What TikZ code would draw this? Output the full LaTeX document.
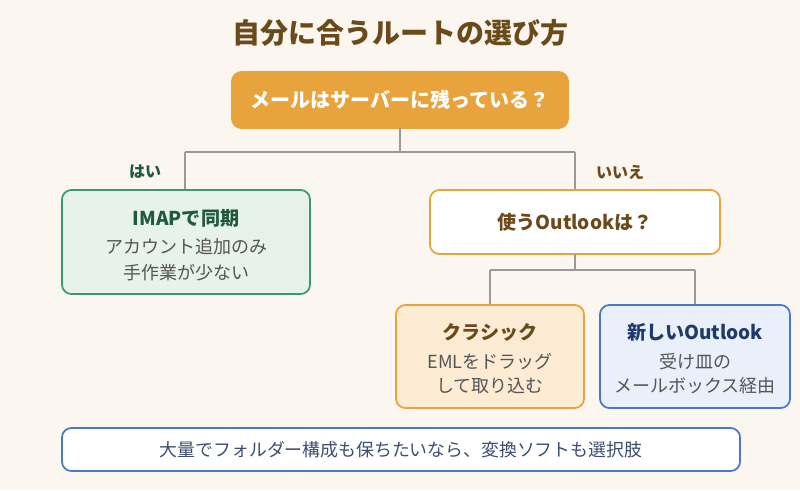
\documentclass[tikz,border=0pt]{standalone}
\usepackage{fontspec}
\setmainfont{Noto Sans CJK JP}
\usetikzlibrary{positioning}
\definecolor{bgc}{HTML}{FBF7F0}
\definecolor{brownc}{HTML}{6B4A1A}
\definecolor{orangec}{HTML}{E8A33D}
\definecolor{greenc}{HTML}{3A9A6A}
\definecolor{greenf}{HTML}{E6F2EA}
\definecolor{greent}{HTML}{1F5A3A}
\definecolor{bluec}{HTML}{4A78C8}
\definecolor{bluef}{HTML}{E9F0FA}
\definecolor{bluet}{HTML}{1F3A6A}
\definecolor{orangef}{HTML}{FDEBD3}
\definecolor{greyt}{HTML}{555555}
\definecolor{linec}{HTML}{999999}
\begin{document}
\begin{tikzpicture}[x=0.75pt,y=-0.75pt]
\tikzstyle{every node}+=[inner sep=0pt]
\tikzstyle{box}=[draw,rounded corners=7pt,line width=1.3pt]
\tikzstyle{link}=[draw=linec,line width=1.2pt]
\tikzstyle{body}=[text=greyt,font=\fontsize{13.5}{16}\selectfont]
\tikzstyle{head}=[font=\fontsize{14.3}{17}\selectfont\bfseries]
\fill [bgc] (0,0) rectangle (800,490);
\useasboundingbox (0,0) rectangle (800,490);
% title
\node (title) at (400,33) [text=brownc,font=\fontsize{21}{24}\selectfont\bfseries] {自分に合うルートの選び方};
% question
\draw [box,draw=orangec,fill=orangec] (232,72) rectangle (568,128);
\node (q) at (400,100) [text=white,font=\fontsize{15}{18}\selectfont\bfseries] {メールはサーバーに残っている？};
\coordinate (qb) at (400,128);
\coordinate (j1) at (400,152);
\coordinate (j1l) at (185,152);
\coordinate (j1r) at (575,152);
\coordinate (imapt) at (185,190);
\coordinate (whicht) at (575,190);
\draw [link] (qb) -- (j1) (j1l) -- (j1r) (j1l) -- (imapt) (j1r) -- (whicht);
\node (yes) at (145,172) [text=greent,font=\fontsize{12}{14}\selectfont\bfseries] {はい};
\node (no) at (620,172) [text=brownc,font=\fontsize{12}{14}\selectfont\bfseries] {いいえ};
% IMAP
\draw [box,draw=greenc,fill=greenf] (62,190) rectangle (310,294);
\node (imap) at (186,218) [head,text=greent] {IMAPで同期};
\node (imap1) at (186,247) [body] {アカウント追加のみ};
\node (imap2) at (186,273) [body] {手作業が少ない};
% which outlook
\draw [box,draw=orangec,fill=white] (430,190) rectangle (720,254);
\node (which) at (575,222) [head,text=brownc] {使うOutlookは？};
\coordinate (wb) at (575,254);
\coordinate (j2) at (575,270);
\coordinate (j2l) at (490,270);
\coordinate (j2r) at (695,270);
\coordinate (clt) at (490,305);
\coordinate (newt) at (695,305);
\draw [link] (wb) -- (j2) (j2l) -- (j2r) (j2l) -- (clt) (j2r) -- (newt);
% classic
\draw [box,draw=orangec,fill=orangef] (396,305) rectangle (584,408);
\node (cl) at (490,332) [head,text=brownc] {クラシック};
\node (cl1) at (490,362) [body] {EMLをドラッグ};
\node (cl2) at (490,386) [body] {して取り込む};
% new outlook
\draw [box,draw=bluec,fill=bluef] (600,305) rectangle (790,408);
\node (new) at (695,332) [head,text=bluet] {新しいOutlook};
\node (new1) at (695,362) [body] {受け皿の};
\node (new2) at (695,386) [body] {メールボックス経由};
% note
\draw [box,draw=bluec,fill=white] (62,428) rectangle (740,471);
\node (note) at (401,450) [text=bluet!70!gray,font=\fontsize{13.4}{16}\selectfont] {大量でフォルダー構成も保ちたいなら、変換ソフトも選択肢};
\end{tikzpicture}
\end{document}
